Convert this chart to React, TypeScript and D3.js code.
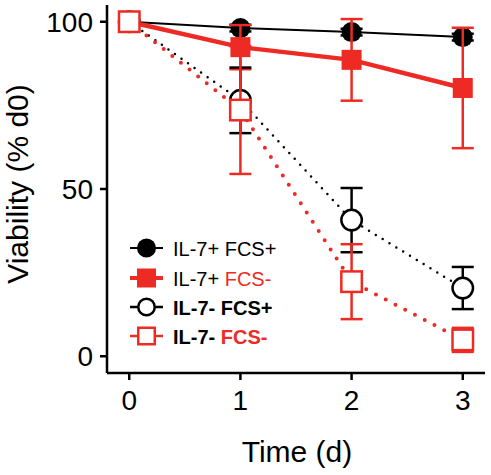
import React from "react";
import * as d3 from "d3";

const days = [0, 1, 2, 3];
const xTicks = [0, 1, 2, 3];
const yTicks = [0, 50, 100];

const il7pFcsP = [100, 98.1, 96.9, 95.4];
const il7pFcsPErr = [0, 1, 1, 1];
const il7pFcsM = [100, 92.4, 88.6, 80.2];
const il7pFcsMErr = [0, 6.6, 12.2, 18];
const il7mFcsP = [100, 76.5, 40.7, 20.4];
const il7mFcsPErr = [0, 9.8, 9.6, 6.3];
const il7mFcsM = [100, 73.6, 22.3, 4.9];
const il7mFcsMErr = [0, 19.1, 11.2, 3.6];

const RED = "#ee2a24";
const FONT = "'Liberation Sans', Arial, Helvetica, sans-serif";

type Series = {
  mean: number[];
  err: number[];
  color: string;
  shape: "circle" | "square";
  filled: boolean;
  lineWidth: number;
  dash: string | null;
};

const series: Series[] = [
  { mean: il7pFcsP, err: il7pFcsPErr, color: "#000", shape: "circle", filled: true, lineWidth: 2, dash: null },
  { mean: il7pFcsM, err: il7pFcsMErr, color: RED, shape: "square", filled: true, lineWidth: 4.5, dash: null },
  { mean: il7mFcsP, err: il7mFcsPErr, color: "#000", shape: "circle", filled: false, lineWidth: 2.5, dash: "0 8" },
  { mean: il7mFcsM, err: il7mFcsMErr, color: RED, shape: "square", filled: false, lineWidth: 4, dash: "0 11" },
];

export default function App() {
  const x = d3.scaleLinear().domain([-0.2, 3.2]).range([107, 485]);
  const y = d3.scaleLinear().domain([-5, 105]).range([373, 5]);
  const line = d3.line<number>().x((_, i) => x(days[i])).y((v) => y(v));

  const marker = (s: Series, cx: number, cy: number, size: number, key: string) => {
    const sw = s.filled ? 0 : 2.5;
    if (s.shape === "circle") {
      return (
        <circle key={key} cx={cx} cy={cy} r={size / 2 - sw / 2}
          fill={s.filled ? s.color : "#fff"} stroke={s.color} strokeWidth={sw} />
      );
    }
    const side = size - sw;
    return (
      <rect key={key} x={cx - side / 2} y={cy - side / 2} width={side} height={side}
        fill={s.filled ? s.color : "#fff"} stroke={s.color} strokeWidth={sw} />
    );
  };

  const legendRows = [
    { s: series[0], a: "IL-7+ ", b: "FCS+", bold: false, cy: 248 },
    { s: series[1], a: "IL-7+ ", b: "FCS-", bold: false, cy: 278 },
    { s: series[2], a: "IL-7- ", b: "FCS+", bold: true, cy: 307 },
    { s: series[3], a: "IL-7- ", b: "FCS-", bold: true, cy: 336 },
  ];

  return (
    <svg width={491} height={475} style={{ position: "absolute", left: 0, top: 0, background: "#fff" }}
      fontFamily={FONT}>
      <rect width={491} height={475} fill="#fff" />
      {/* axes */}
      <line x1={107} x2={107} y1={y(105)} y2={y(-5)} stroke="#000" strokeWidth={2.5} />
      <line x1={x(-0.2)} x2={x(3.2)} y1={373} y2={373} stroke="#000" strokeWidth={2.5} />
      {yTicks.map((t) => (
        <g key={"yt" + t}>
          <line x1={100} x2={107} y1={y(t)} y2={y(t)} stroke="#000" strokeWidth={2.5} />
          <text x={93} y={y(t) + 10} textAnchor="end" fontSize={28}>{t}</text>
        </g>
      ))}
      {xTicks.map((t) => (
        <g key={"xt" + t}>
          <line x1={x(t)} x2={x(t)} y1={373} y2={380} stroke="#000" strokeWidth={2.5} />
          <text x={x(t)} y={410} textAnchor="middle" fontSize={28}>{t}</text>
        </g>
      ))}
      <text transform="translate(28,184) rotate(-90)" textAnchor="middle" fontSize={30}>Viability (% d0)</text>
      <text x={297} y={462} textAnchor="middle" fontSize={30}>Time (d)</text>

      {/* series */}
      {series.map((s, si) => (
        <g key={"s" + si}>
          <path d={line(s.mean) || ""} fill="none" stroke={s.color} strokeWidth={s.lineWidth}
            strokeDasharray={s.dash || undefined} strokeLinecap={s.dash ? "round" : "butt"} />
          {s.mean.map((m, i) => {
            if (!s.err[i]) return null;
            const cx = x(days[i]);
            const top = y(m + s.err[i]);
            const bot = y(m - s.err[i]);
            return (
              <g key={"e" + i} stroke={s.color} strokeWidth={2.5}>
                <line x1={cx} x2={cx} y1={top} y2={bot} />
                <line x1={cx - 11} x2={cx + 11} y1={top} y2={top} />
                <line x1={cx - 11} x2={cx + 11} y1={bot} y2={bot} />
              </g>
            );
          })}
          {s.mean.map((m, i) => marker(s, x(days[i]), y(m), s.filled ? 20 : 23, "m" + i))}
        </g>
      ))}

      {/* legend */}
      {legendRows.map((r, i) => (
        <g key={"l" + i}>
          <line x1={130} x2={163} y1={r.cy} y2={r.cy} stroke={r.s.color}
            strokeWidth={r.s.filled ? (r.s.color === RED ? 4 : 2) : 2.5} />
          {marker(r.s, 146.5, r.cy, 19, "lm" + i)}
          <text x={173} y={r.cy + 7.5} fontSize={20} fontWeight={r.bold ? "bold" : "normal"}>
            <tspan fill="#000">{r.a}</tspan>
            <tspan fill={r.s.color}>{r.b}</tspan>
          </text>
        </g>
      ))}
    </svg>
  );
}
